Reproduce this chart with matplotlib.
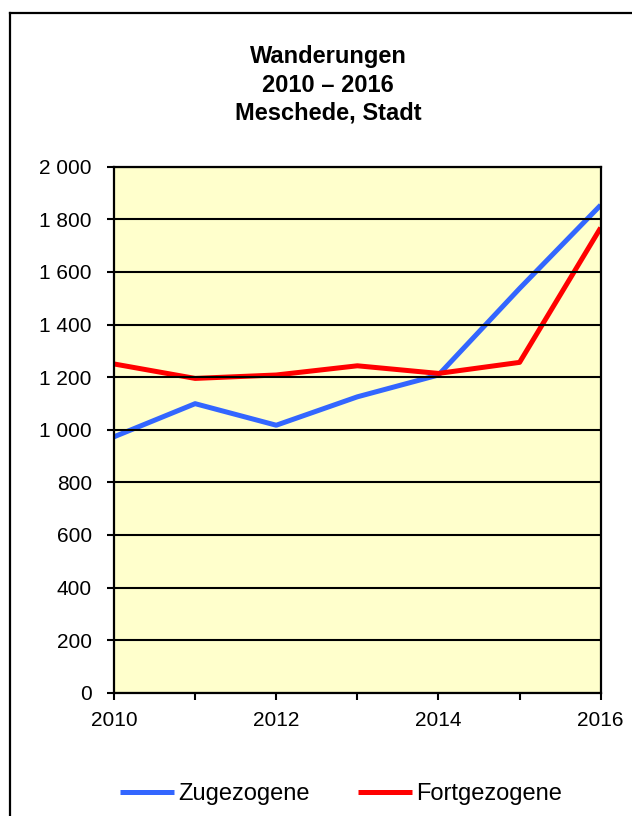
import matplotlib
matplotlib.use("Agg")
import matplotlib.pyplot as plt
from matplotlib.ticker import FuncFormatter, MultipleLocator
from matplotlib.lines import Line2D

plt.rcParams['font.family'] = ['Liberation Sans', 'DejaVu Sans']

years = [2010, 2011, 2012, 2013, 2014, 2015, 2016]
zugezogene = [973, 1099, 1017, 1125, 1208, 1537, 1854]
fortgezogene = [1250, 1195, 1208, 1243, 1214, 1256, 1768]
title = "Wanderungen\n2010 – 2016\nMeschede, Stadt"

W, H = 632, 816
fig = plt.figure(figsize=(W / 100, H / 100), dpi=100)
ax = fig.add_axes([114 / W, 1 - 692.7 / H, (600.7 - 114) / W, (692.7 - 166.7) / H])
ax.set_facecolor('#FFFFCC')

ax.plot(years, zugezogene, color='#3366FF', lw=3.6, label='Zugezogene', solid_capstyle='butt')
ax.plot(years, fortgezogene, color='#FF0000', lw=3.6, label='Fortgezogene', solid_capstyle='butt')

ax.set_xlim(2010, 2016)
ax.set_ylim(0, 2000)
ax.yaxis.set_major_locator(MultipleLocator(200))
ax.xaxis.set_major_locator(MultipleLocator(2))
ax.xaxis.set_minor_locator(MultipleLocator(1))
ax.yaxis.set_major_formatter(FuncFormatter(lambda v, p: f"{int(v):,}".replace(",", " ")))
ax.grid(axis='y', color='black', lw=1.5)
ax.set_axisbelow(False)
for s in ax.spines.values():
    s.set_linewidth(1.6)
    s.set_color('black')
ax.tick_params(axis='both', which='both', direction='out', length=5, width=1.5, labelsize=15)
ax.tick_params(axis='x', which='major', pad=8)
ax.tick_params(axis='y', pad=11)

fig.text(328 / W, 1 - 85 / H, title, ha='center', va='center', fontsize=17, fontweight='bold', linespacing=1.3)

# outer frame
fig.add_artist(Line2D([10 / W, 10 / W], [1 - 13 / H, 0], transform=fig.transFigure, color='black', lw=1.6))
fig.add_artist(Line2D([10 / W, 1], [1 - 13 / H, 1 - 13 / H], transform=fig.transFigure, color='black', lw=1.6))

fig.legend(loc='center', bbox_to_anchor=(341 / W, 1 - 794 / H), ncol=2, frameon=False,
           fontsize=17, handlelength=2.29, handletextpad=0.17, columnspacing=2.06,
           borderpad=0, borderaxespad=0)

fig.savefig('out.png', dpi=100)
